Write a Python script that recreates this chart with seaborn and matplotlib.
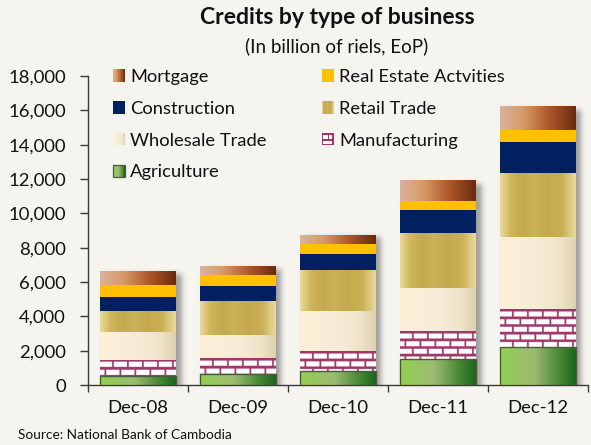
import numpy as np
import matplotlib
matplotlib.use("Agg")
import matplotlib.pyplot as plt
import seaborn as sns
from math import erf
from matplotlib.colors import LinearSegmentedColormap, to_rgb
from matplotlib.patches import Rectangle, Patch
from matplotlib.legend_handler import HandlerBase
from matplotlib.ticker import FuncFormatter, MultipleLocator, FixedLocator

# Credits outstanding, billion riels, end of period
periods = ["Dec-08", "Dec-09", "Dec-10", "Dec-11", "Dec-12"]
agriculture = [520, 660, 830, 1510, 2210]
manufacturing = [940, 910, 1150, 1630, 2210]
wholesale_trade = [1630, 1340, 2330, 2500, 4190]
retail_trade = [1220, 1980, 2390, 3200, 3730]
construction = [820, 870, 930, 1340, 1810]
real_estate = [700, 640, 580, 520, 700]
mortgage = [760, 480, 520, 1170, 1340]

stack_order = [
    ("Agriculture", agriculture),
    ("Manufacturing", manufacturing),
    ("Wholesale Trade", wholesale_trade),
    ("Retail Trade", retail_trade),
    ("Construction", construction),
    ("Real Estate Actvities", real_estate),
    ("Mortgage", mortgage),
]

BG = "#F5F4EF"
MAGENTA = "#A0386A"
INK = "#111111"

# horizontal colour ramps used to fill each segment
ramps = {
    "Mortgage": [(0.0, "#DAB29D"), (0.3, "#D89B68"), (0.65, "#AE5729"), (1.0, "#692B0D")],
    "Real Estate Actvities": [(0.0, "#FFC000"), (1.0, "#FFC000")],
    "Construction": [(0.0, "#002060"), (1.0, "#002060")],
    "Retail Trade": [(0.0, "#EADB98"), (0.14, "#CFB65C"), (0.3, "#C4A94C"), (0.45, "#CBB35A"),
                     (0.62, "#C4A94C"), (0.82, "#CAB056"), (1.0, "#E9DBA0")],
    "Wholesale Trade": [(0.0, "#FDF0D6"), (0.5, "#F7ECD8"), (0.8, "#EFE3C9"), (1.0, "#DED1AE")],
    "Agriculture": [(0.0, "#92CF50"), (0.45, "#9DBB72"), (0.75, "#4F8D3B"), (1.0, "#1B6619")],
}
ramp_cmaps = {k: LinearSegmentedColormap.from_list(k, v) for k, v in ramps.items()}
mean_colors = {k: ramp_cmaps[k](0.5) for k in ramps}
mean_colors["Manufacturing"] = MAGENTA

sns.set_theme(style="white")
plt.rcParams["font.family"] = ["Lato", "DejaVu Sans"]

W, H = 591, 445
fig = plt.figure(figsize=(W / 100, H / 100), dpi=100, facecolor=BG)
ax = fig.add_axes([88 / W, 60 / H, 500 / W, 309 / H])
ax.set_facecolor(BG)

# cumulative tops for the stacked layers
bottoms, tops = {}, {}
running = np.zeros(len(periods))
for name, vals in stack_order:
    bottoms[name] = running.copy()
    running = running + np.asarray(vals, dtype=float)
    tops[name] = running.copy()

# draw the cumulative bars from the top layer down so each covers the one below
layer_rects = {}
for name, _ in reversed(stack_order):
    n0 = len(ax.patches)
    sns.barplot(x=periods, y=tops[name], color=mean_colors[name], width=0.76,
                saturation=1, linewidth=0, zorder=2, ax=ax)
    layer_rects[name] = list(ax.patches[n0:])

ax.set_xlim(-0.5, len(periods) - 0.5)
ax.set_ylim(0, 18000)

to_px = ax.transData
to_data = ax.transData.inverted()
verf = np.vectorize(erf)


def px_box(x0, x1, y0, y1):
    (a, b) = to_px.transform((x0, y0))
    (c, d) = to_px.transform((x1, y1))
    return a, c, b, d


def brick_image(w_px, h_px, scale=4):
    w, h = max(int(round(w_px * scale)), 1), max(int(round(h_px * scale)), 1)
    yy = (np.arange(h)[:, None] + 0.5) / scale      # measured from the top of the segment
    xx = (np.arange(w)[None, :] + 0.5) / scale
    row_p, col_p = 7.6, 15.0
    row = np.floor(yy / row_p)
    ry = yy - row * row_p
    shift = np.where(row % 2 == 0, 0.0, col_p / 2) + 3.0
    cx = (xx + shift) % col_p
    white = (ry > 2.6) & (cx > 1.8)
    img = np.empty((h, w, 3))
    img[:] = to_rgb(MAGENTA)
    img[white] = (1.0, 1.0, 1.0)
    return img


# soft drop shadows behind every stacked column
for rect in layer_rects["Mortgage"]:
    x0 = rect.get_x()
    x1 = x0 + rect.get_width()
    top = rect.get_height()
    px0, px1, py0, py1 = px_box(x0, x1, 0, top)
    pad = 14
    gx = np.arange(np.floor(px0 - pad), np.ceil(px1 + pad)) + 0.5
    gy = np.arange(np.floor(py0 - pad), np.ceil(py1 + pad)) + 0.5
    dx, dy, sig = 5.0, -3.0, 2.6
    s2 = sig * np.sqrt(2)
    fx = 0.5 * (verf((gx - (px0 + dx)) / s2) - verf((gx - (px1 + dx)) / s2))
    fy = 0.5 * (verf((gy - (py0 + dy)) / s2) - verf((gy - (py1 + dy)) / s2))
    alpha = (fy[::-1, None] * fx[None, :]) * 0.55
    shadow = np.zeros(alpha.shape + (4,))
    shadow[..., :3] = 0.35
    shadow[..., 3] = alpha
    ex0, ey0 = to_data.transform((gx[0] - 0.5, gy[0] - 0.5))
    ex1, ey1 = to_data.transform((gx[-1] + 0.5, gy[-1] + 0.5))
    ax.imshow(shadow, extent=(ex0, ex1, ey0, ey1), aspect="auto", origin="upper",
              zorder=1.5, interpolation="bilinear")

# fill every visible segment with its ramp or brick texture
for name, _ in stack_order:
    for i, rect in enumerate(layer_rects[name]):
        x0 = rect.get_x()
        x1 = x0 + rect.get_width()
        y0, y1 = bottoms[name][i], tops[name][i]
        if name == "Manufacturing":
            px0, px1, py0, py1 = px_box(x0, x1, y0, y1)
            img = brick_image(px1 - px0, py1 - py0)
            interp = "antialiased"
        else:
            grad = ramp_cmaps[name](np.linspace(0, 1, 256))[None, :, :3]
            img = np.repeat(grad, 2, axis=0)
            interp = "bilinear"
        ax.imshow(img, extent=(x0, x1, y0, y1), aspect="auto", origin="upper",
                  zorder=3, interpolation=interp)
        if name == "Agriculture":
            ax.add_patch(Rectangle((x0, y0), x1 - x0, y1 - y0, fill=False,
                                   edgecolor="#4B5A3C", linewidth=1.0, zorder=4))

ax.set_xlim(-0.5, len(periods) - 0.5)
ax.set_ylim(0, 18000)

# axes styling
for side in ("top", "right"):
    ax.spines[side].set_visible(False)
for side in ("left", "bottom"):
    ax.spines[side].set_color("#3A3A3A")
    ax.spines[side].set_linewidth(1.0)
ax.yaxis.set_major_locator(MultipleLocator(2000))
ax.yaxis.set_major_formatter(FuncFormatter(lambda v, _: f"{v:,.0f}"))
ax.tick_params(axis="y", which="major", direction="out", length=6, width=1.0,
               color="#3A3A3A", labelsize=13.3, labelcolor=INK, pad=10, left=True)
ax.xaxis.set_minor_locator(FixedLocator(np.arange(-0.5, len(periods), 1.0)))
ax.tick_params(axis="x", which="major", length=0, labelsize=13.3, labelcolor=INK, pad=11)
ax.tick_params(axis="x", which="minor", direction="out", length=5, width=1.0,
               color="#3A3A3A", bottom=True)
ax.set_xlabel("")
ax.set_ylabel("")
ax.grid(False)


class RampHandler(HandlerBase):
    def __init__(self, cmap, edge=None):
        super().__init__()
        self.cmap = cmap
        self.edge = edge

    def create_artists(self, legend, orig_handle, xdescent, ydescent, width, height, fontsize, trans):
        n = 14
        arts = []
        for k in range(n):
            arts.append(Rectangle((-xdescent + k * width / n, -ydescent), width / n + 0.05, height,
                                  facecolor=self.cmap((k + 0.5) / n), edgecolor="none",
                                  transform=trans))
        if self.edge:
            arts.append(Rectangle((-xdescent, -ydescent), width, height, fill=False,
                                  edgecolor=self.edge, linewidth=0.9, transform=trans))
        return arts


class BrickHandler(HandlerBase):
    def create_artists(self, legend, orig_handle, xdescent, ydescent, width, height, fontsize, trans):
        x, y = -xdescent, -ydescent
        arts = [Rectangle((x, y), width, height, facecolor=MAGENTA, edgecolor="none", transform=trans)]
        for (a, b, c, d) in [(0.14, 0.5, 0.34, 0.34), (0.56, 0.5, 0.30, 0.34), (0.14, 0.14, 0.72, 0.2)]:
            arts.append(Rectangle((x + a * width, y + b * height), c * width, d * height,
                                  facecolor="white", edgecolor="none", transform=trans))
        return arts


proxies = {name: Patch(label=name) for name, _ in stack_order}
handler_map = {}
for name, proxy in proxies.items():
    if name == "Manufacturing":
        handler_map[proxy] = BrickHandler()
    else:
        handler_map[proxy] = RampHandler(ramp_cmaps[name], edge="#4B5A3C" if name == "Agriculture" else None)

legend_order = ["Mortgage", "Construction", "Wholesale Trade", "Agriculture",
                "Real Estate Actvities", "Retail Trade", "Manufacturing"]
leg = fig.legend([proxies[n] for n in legend_order], legend_order, handler_map=handler_map,
                 loc="upper left", bbox_to_anchor=(113 / W, 1 - 69 / H), ncol=2,
                 frameon=False, fontsize=13.2, handlelength=0.66, handleheight=0.66,
                 handletextpad=0.28, labelspacing=0.86, columnspacing=3.0, borderpad=0,
                 borderaxespad=0)
for t in leg.get_texts():
    t.set_color(INK)

fig.text(337 / W, 1 - 18 / H, "Credits by type of business", ha="center", va="center",
         fontsize=16.5, fontweight="bold", color=INK)
fig.text(337 / W, 1 - 46 / H, "(In billion of riels, EoP)", ha="center", va="center",
         fontsize=13.5, color=INK)
fig.text(18 / W, 1 - 435 / H, "Source: National Bank of Cambodia", ha="left", va="center",
         fontsize=9.8, color=INK)

fig.savefig("out.png", dpi=100, facecolor=BG)
